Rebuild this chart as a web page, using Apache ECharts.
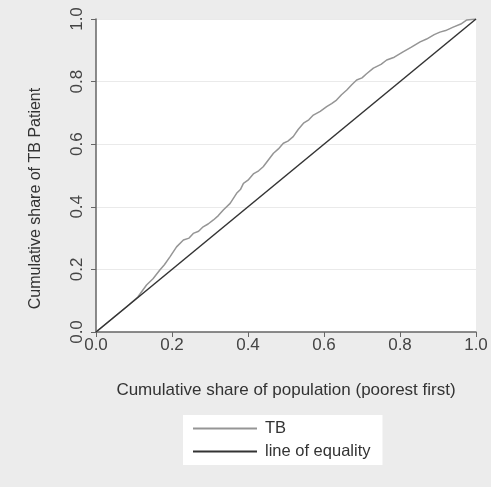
<!DOCTYPE html>
<html>
<head>
<meta charset="utf-8">
<script src="https://cdn.jsdelivr.net/npm/echarts@6/dist/echarts.min.js"></script>
<style>
html,body{margin:0;padding:0;background:#ececec;}
#c{width:491px;height:487px;}
</style>
</head>
<body>
<div id="c"></div>
<script>
var tbX = [0, 0.04, 0.08, 0.11, 0.133, 0.15, 0.168, 0.18, 0.195, 0.212, 0.23, 0.245, 0.256, 0.27, 0.282, 0.295, 0.309, 0.322, 0.335, 0.353, 0.37, 0.38, 0.388, 0.40, 0.414, 0.428, 0.44, 0.455, 0.467, 0.48, 0.493, 0.505, 0.519, 0.532, 0.546, 0.56, 0.572, 0.59, 0.607, 0.62, 0.633, 0.646, 0.66, 0.673, 0.686, 0.70, 0.712, 0.73, 0.75, 0.765, 0.785, 0.808, 0.83, 0.853, 0.87, 0.89, 0.905, 0.92, 0.94, 0.96, 0.976, 1.0];
var tbY = [0, 0.04, 0.08, 0.112, 0.15, 0.17, 0.198, 0.215, 0.241, 0.272, 0.294, 0.30, 0.315, 0.322, 0.336, 0.345, 0.358, 0.372, 0.39, 0.411, 0.443, 0.455, 0.475, 0.485, 0.505, 0.515, 0.528, 0.552, 0.571, 0.585, 0.603, 0.61, 0.624, 0.647, 0.667, 0.678, 0.693, 0.705, 0.72, 0.73, 0.741, 0.758, 0.773, 0.79, 0.805, 0.812, 0.825, 0.843, 0.855, 0.869, 0.878, 0.895, 0.91, 0.927, 0.936, 0.95, 0.958, 0.963, 0.974, 0.984, 0.997, 1.0];
var eqX = [0, 1];
var eqY = [0, 1];
var seriesNames = ['TB', 'line of equality'];
var xTitle = 'Cumulative share of population (poorest first)';
var yTitle = 'Cumulative share of TB Patient';

function pairs(xs, ys){ return xs.map(function(x,i){ return [x, ys[i]]; }); }

var font = '"Liberation Sans", Arial, sans-serif';
var chart = echarts.init(document.getElementById('c'), null, {renderer:'canvas'});
chart.setOption({
  backgroundColor: '#ececec',
  animation: false,
  textStyle: {fontFamily: font},
  grid: {left: 96, right: 15, top: 19, bottom: 155, show: true, backgroundColor: '#ffffff', borderWidth: 0},
  legend: {
    orient: 'vertical', left: 183, top: 415,
    icon: 'rect',
    itemWidth: 64, itemHeight: 2, itemGap: 6,
    backgroundColor: '#ffffff',
    padding: [5, 12, 5, 10],
    textStyle: {fontFamily: font, fontSize: 16.5, color: '#333', padding: [0, 0, 0, 3]},
    data: seriesNames
  },
  xAxis: {
    type: 'value', min: 0, max: 1, interval: 0.2,
    name: xTitle, nameLocation: 'middle', nameGap: 50,
    nameTextStyle: {fontFamily: font, fontSize: 17, color: '#333'},
    axisLine: {show: true, lineStyle: {color: '#666', width: 1.5}},
    axisTick: {show: true, length: 5, lineStyle: {color: '#666'}},
    axisLabel: {fontFamily: font, fontSize: 17, color: '#444', margin: 5, formatter: function(v){return v.toFixed(1);}},
    splitLine: {show: false}
  },
  yAxis: {
    type: 'value', min: 0, max: 1, interval: 0.2,
    name: yTitle, nameLocation: 'middle', nameGap: 52, nameRotate: 90,
    nameTextStyle: {fontFamily: font, fontSize: 16, color: '#333', padding: [0, 46, 0, 0]},
    axisLine: {show: true, lineStyle: {color: '#666', width: 1.5}},
    axisTick: {show: true, length: 5, lineStyle: {color: '#666'}},
    axisLabel: {fontFamily: font, fontSize: 17, color: '#444', margin: 10, rotate: 90, formatter: function(v){return v.toFixed(1);}},
    splitLine: {show: true, lineStyle: {color: '#eaeaea', width: 1}}
  },
  series: [
    {name: seriesNames[0], type: 'line', data: pairs(tbX, tbY), symbol: 'none', lineStyle: {color: '#959595', width: 1.5}, itemStyle: {color: '#959595'}},
    {name: seriesNames[1], type: 'line', data: pairs(eqX, eqY), symbol: 'none', lineStyle: {color: '#333333', width: 1.5}, itemStyle: {color: '#333333'}}
  ]
});
</script>
</body>
</html>
